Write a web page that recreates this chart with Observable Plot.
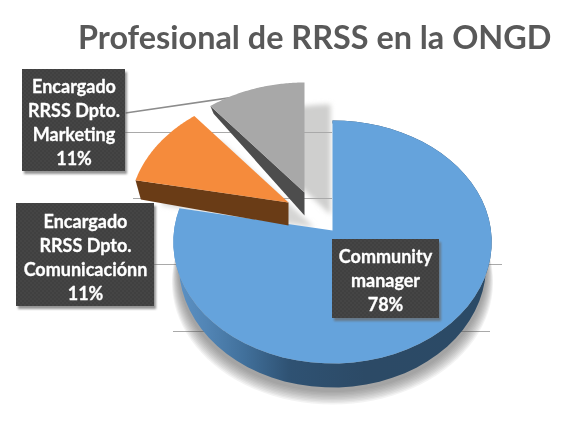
<!DOCTYPE html>
<html lang="es">
<head>
<meta charset="utf-8">
<script src="https://cdn.jsdelivr.net/npm/d3@7"></script>
<script src="https://cdn.jsdelivr.net/npm/@observablehq/plot@0.6"></script>
<style>
html,body{margin:0;padding:0;background:#fff;}
#title{height:60px;box-sizing:border-box;padding-top:18px;padding-left:78px;white-space:nowrap;
font:700 32.4px/38px Lato,sans-serif;color:#595959;filter:blur(.4px);}
#chart{display:block;line-height:0;filter:blur(.4px);}
</style>
</head>
<body>
<div id="title">Profesional de RRSS en la ONGD</div>
<div id="chart"></div>
<script>
const categories = ["Community\nmanager", "Encargado\nRRSS Dpto.\nComunicaciónn", "Encargado\nRRSS Dpto.\nMarketing"];
const shares = [78, 11, 11];

// Layout of the picture (pixel space of the 579x427 window)
const W = 579, H = 427, TOP = 60;
const center = [332, 230], R = 158.5, RY = 120.4, PERSP = 0.0947, BOTTOM_SHRINK = 0.965;
const explode = [[0, 0], [-44, -28], [-28, -38]];
const sliceFill = ["#65a3dc", "#f58b3c", "#a8a8a8"];
const sideFill = ["url(#wallBlue)", "#6a3c16", "#4d4d4d"];
const labelBox = [[332, 439, 239, 318], [16, 154, 203, 306], [22, 125, 69, 171]];
const gridY = [132, 198, 264, 331];
const gridFrom = [125, 133, 154, 173];
const gridTo = [332, 332, 502, 490];

// Slice angles, clockwise from 12 o'clock
const total = d3.sum(shares);
const ends = d3.cumsum(shares).map(d => d / total * 2 * Math.PI);
const starts = [0, ...ends.slice(0, -1)];

const depth = v => (v > 0 ? 23 - 20 * v : 23 - v);
function project(a, r, low, off) {
  const u = r * Math.sin(a), v = r * Math.cos(a), w = 1 + PERSP * v;
  const s = low ? BOTTOM_SHRINK : 1;
  return {
    x: center[0] + off[0] + R * u / w * (r ? s : 1),
    y: center[1] + off[1] - RY * v / w + (low ? depth(v) : 0)
  };
}
const arc = (a0, a1, low, off) => d3.range(61).map(i => project(a0 + (a1 - a0) * i / 60, 1, low, off));
const face = i => [project(0, 0, false, explode[i]), ...arc(starts[i], ends[i], false, explode[i])];
const radialWall = (a, off) => [project(a, 0, false, off), project(a, 1, false, off), project(a, 1, true, off), project(a, 0, true, off)];
const rimWall = i => [...arc(starts[i], ends[i], false, explode[i]), ...arc(starts[i], ends[i], true, explode[i]).reverse()];
const shift = (pts, dx, dy) => pts.map(p => ({x: p.x + dx, y: p.y + dy}));

const poly = (pts, fill) => Plot.line(pts, {x: "x", y: "y", fill, stroke: "none"});

// the ground shadow: the lower rim of the pie, repeated wider and lower with a low opacity
const groundRim = arc(0.44 * Math.PI, 1.56 * Math.PI, true, [0, 0]);
const groundLayers = d3.range(1, 11).map(k => groundRim.map(p => ({
  x: center[0] + (p.x - center[0]) * (1 + 0.0045 * k),
  y: p.y + 3 + 1.4 * k
})));

const labelPos = [[385, 279], [85, 255.5], [73.5, 121]];
const labels = categories.map((c, i) => ({
  text: `${c}\n${shares[i]}%`, x: labelPos[i][0], y: labelPos[i][1],
  x1: labelBox[i][0], x2: labelBox[i][1], y1: labelBox[i][2], y2: labelBox[i][3]
}));
const grid = gridY.map((y, i) => ({y, x1: gridFrom[i], x2: gridTo[i]}));

const plot = Plot.plot({
  width: W, height: H - TOP,
  margin: 0,
  x: {domain: [0, W], range: [0, W], axis: null},
  y: {domain: [TOP, H], range: [0, H - TOP], axis: null},
  marks: [
    // soft shadows behind the pie
    poly(shift(face(2), 26, 22), "#cfcfce"),
    poly(shift(face(1), 26, 25), "#d5d5d4"),
    Plot.ruleY(grid, {y: "y", x1: "x1", x2: "x2", stroke: "#a9a9a9", strokeWidth: 1}),
    groundLayers.map(pts => Plot.line(pts, {x: "x", y: "y", fill: "#555", fillOpacity: 0.07, stroke: "none"})),
    // the leader line
    Plot.link([{x1: 125, y1: 112.5, x2: 258, y2: 93}], {x1: "x1", y1: "y1", x2: "x2", y2: "y2", stroke: "#8c8c8c", strokeWidth: 1.6}),
    // blue slice
    poly(rimWall(0), sideFill[0]),
    poly(face(0), sliceFill[0]),
    // orange slice
    poly(radialWall(starts[1], explode[1]), sideFill[1]),
    poly(face(1), sliceFill[1]),
    // grey slice
    poly(radialWall(starts[2], explode[2]), sideFill[2]),
    poly(face(2), sliceFill[2]),
    // data labels
    Plot.rect(labels, {x1: d => d.x1 + 2, x2: d => d.x2 + 2, y1: d => d.y1 + 3, y2: d => d.y2 + 3, fill: "#666", fillOpacity: 0.7}),
    Plot.rect(labels, {x1: "x1", x2: "x2", y1: "y1", y2: "y2", fill: "url(#dots)"}),
    Plot.text(labels, {x: "x", y: "y", text: "text", fill: "#fff", stroke: "#fff", strokeWidth: 0.3, fontSize: 18, fontWeight: 700,
      fontFamily: "Lato, sans-serif", lineHeight: 1.34, lineAnchor: "middle", textAnchor: "middle"})
  ]
});

const svg = d3.select(plot);
svg.style("background", "#fff").style("display", "block");
const defs = svg.insert("defs", ":first-child");
const grad = defs.append("linearGradient").attr("id", "wallBlue").attr("gradientUnits", "userSpaceOnUse")
  .attr("x1", 174).attr("x2", 492).attr("y1", 0).attr("y2", 0);
[[0, "#5d93c6"], [0.1, "#5285b5"], [0.22, "#41709b"], [0.36, "#2f5273"], [0.6, "#2c4a66"], [1, "#2b4a66"]]
  .forEach(([o, c]) => grad.append("stop").attr("offset", o).attr("stop-color", c));
const pat = defs.append("pattern").attr("id", "dots").attr("patternUnits", "userSpaceOnUse").attr("width", 4).attr("height", 4);
pat.append("rect").attr("width", 4).attr("height", 4).attr("fill", "#404040");
pat.append("circle").attr("cx", 1).attr("cy", 1).attr("r", .7).attr("fill", "#4e4e4e");
pat.append("circle").attr("cx", 3).attr("cy", 3).attr("r", .7).attr("fill", "#4e4e4e");
const blur = (id, s, fill) => {
  defs.append("filter").attr("id", id).attr("filterUnits", "userSpaceOnUse")
    .attr("x", 0).attr("y", 0).attr("width", W).attr("height", H)
    .append("feGaussianBlur").attr("stdDeviation", s);
  svg.selectAll(`g[fill="${fill}"]`).attr("filter", `url(#${id})`);
};
blur("b3a", 2.5, "#cfcfce");
blur("b3b", 2.5, "#d5d5d4");
blur("b1", 1.2, "#666");
document.getElementById("chart").append(plot);
</script>
</body>
</html>
